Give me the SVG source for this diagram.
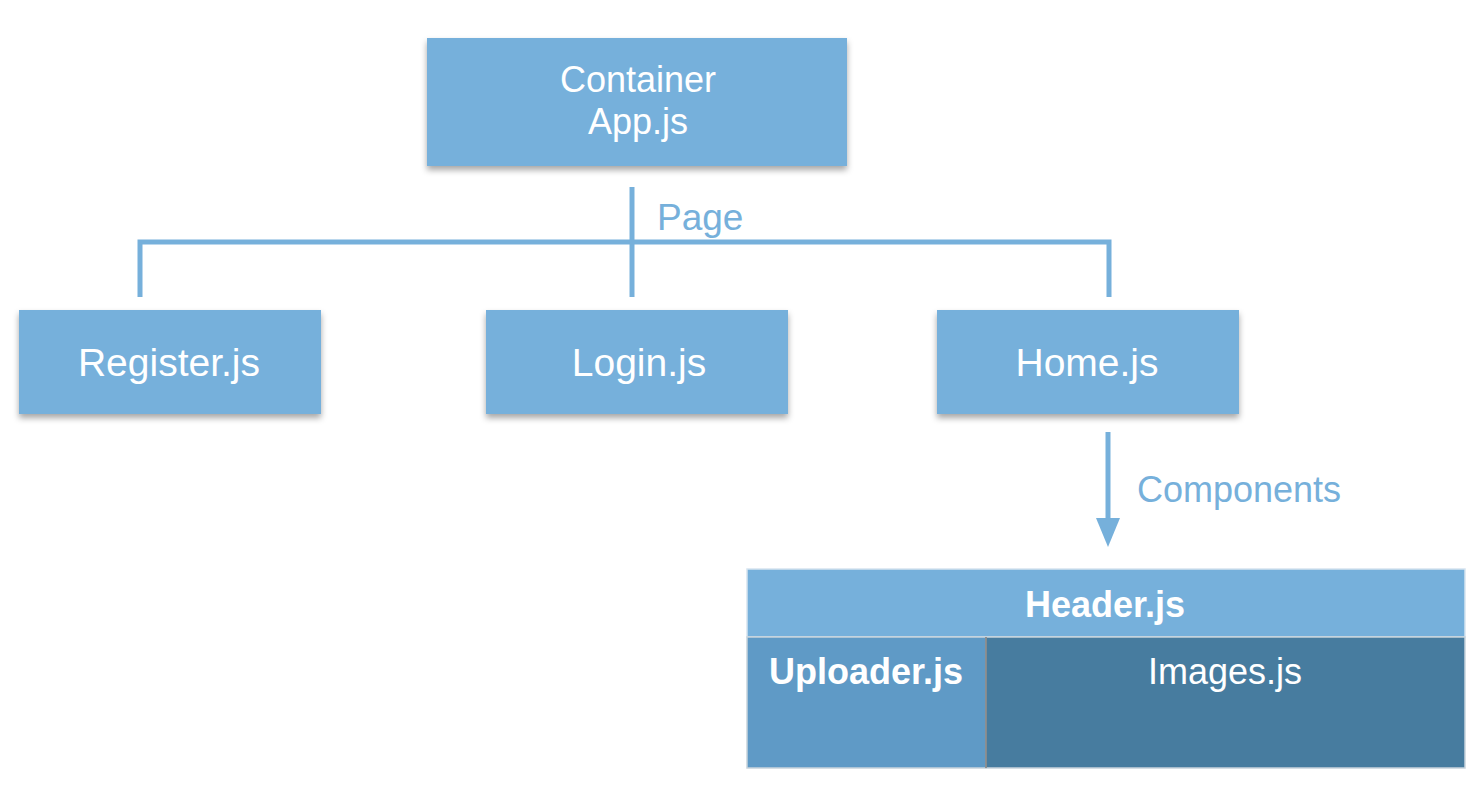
<svg xmlns="http://www.w3.org/2000/svg" width="1470" height="808" viewBox="0 0 1470 808">
<style>
.box{fill:#76b0db}
.lbl{font-family:"Liberation Sans",Arial,sans-serif;fill:#ffffff;text-anchor:middle}
.conn{stroke:#76b0db;stroke-width:5;fill:none}
.ctext{font-family:"Liberation Sans",Arial,sans-serif;fill:#76b0db}
</style>
<defs>
<filter id="sh" x="-10%" y="-20%" width="120%" height="150%">
<feDropShadow dx="0" dy="4" stdDeviation="3" flood-color="#000" flood-opacity="0.35"/>
</filter>
</defs>
<rect width="1470" height="808" fill="#ffffff"/>
<g id="connectors">
<line class="conn" x1="632" y1="187" x2="632" y2="297"/>
<polyline class="conn" points="140,297 140,242 1109,242 1109,297"/>
<line class="conn" x1="1108" y1="432" x2="1108" y2="522"/>
<polygon points="1096,518 1120,518 1108,547" fill="#76b0db"/>
<text class="ctext" x="657" y="230" font-size="37">Page</text>
<text class="ctext" x="1137" y="502" font-size="36">Components</text>
</g>
<g id="app">
<rect class="box" x="427" y="38" width="420" height="128" filter="url(#sh)"/>
<text class="lbl" x="638" y="92" font-size="36">Container</text>
<text class="lbl" x="638" y="134" font-size="36">App.js</text>
</g>
<g id="register">
<rect class="box" x="19" y="310" width="302" height="104" filter="url(#sh)"/>
<text class="lbl" x="169" y="376" font-size="39">Register.js</text>
</g>
<g id="login">
<rect class="box" x="486" y="310" width="302" height="104" filter="url(#sh)"/>
<text class="lbl" x="639" y="376" font-size="39">Login.js</text>
</g>
<g id="home">
<rect class="box" x="937" y="310" width="302" height="104" filter="url(#sh)"/>
<text class="lbl" x="1087" y="376" font-size="39">Home.js</text>
</g>
<g id="header">
<rect x="747" y="569" width="718" height="68" fill="#76b0db" stroke="#d6e4ef" stroke-width="1.5"/>
<text class="lbl" x="1105" y="617" font-size="36" font-weight="bold">Header.js</text>
</g>
<g id="uploader">
<rect x="747" y="637" width="239" height="131" fill="#5f9ac6" stroke="#c8d3dc" stroke-width="1.5"/>
<text class="lbl" x="866" y="684" font-size="36" font-weight="bold">Uploader.js</text>
</g>
<g id="images">
<rect x="986" y="637" width="479" height="131" fill="#477c9f" stroke="#c8d3dc" stroke-width="1.5"/>
<line x1="986" y1="637" x2="986" y2="768" stroke="#7a7a7a" stroke-width="1.5"/>
<text class="lbl" x="1225" y="684" font-size="36">Images.js</text>
</g>
</svg>
